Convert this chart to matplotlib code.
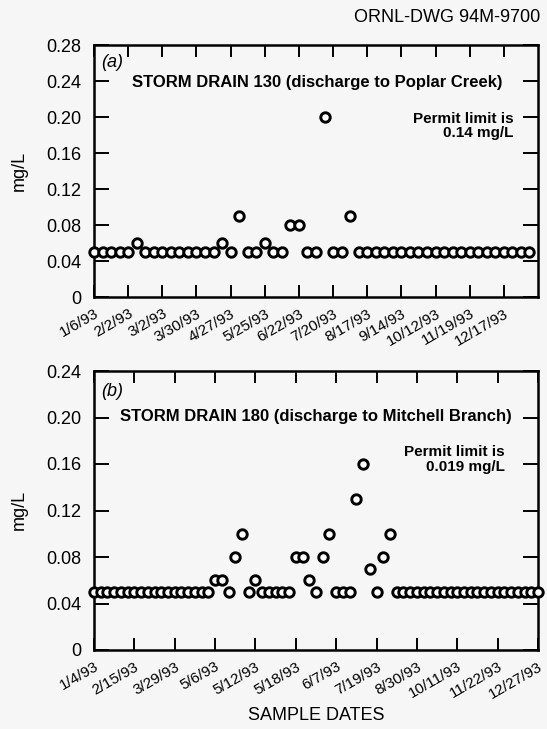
import matplotlib
matplotlib.use("Agg")
import matplotlib.pyplot as plt

plt.rcParams['font.family'] = ['Liberation Sans', 'DejaVu Sans']

# Storm drain 130 (discharge to Poplar Creek), one value per sample
sd130_labels = ["1/6/93", "2/2/93", "3/2/93", "3/30/93", "4/27/93", "5/25/93",
                "6/22/93", "7/20/93", "8/17/93", "9/14/93", "10/12/93",
                "11/19/93", "12/17/93"]
sd130_values = [0.05, 0.05, 0.05, 0.05, 0.05, 0.06, 0.05, 0.05, 0.05, 0.05,
                0.05, 0.05, 0.05, 0.05, 0.05, 0.06, 0.05, 0.09, 0.05, 0.05,
                0.06, 0.05, 0.05, 0.08, 0.08, 0.05, 0.05, 0.20, 0.05, 0.05,
                0.09, 0.05, 0.05, 0.05, 0.05, 0.05, 0.05, 0.05, 0.05, 0.05,
                0.05, 0.05, 0.05, 0.05, 0.05, 0.05, 0.05, 0.05, 0.05, 0.05,
                0.05, 0.05]

# Storm drain 180 (discharge to Mitchell Branch)
sd180_labels = ["1/4/93", "2/15/93", "3/29/93", "5/6/93", "5/12/93", "5/18/93",
                "6/7/93", "7/19/93", "8/30/93", "10/11/93", "11/22/93",
                "12/27/93"]
sd180_values = [0.05, 0.05, 0.05, 0.05, 0.05, 0.05, 0.05, 0.05, 0.05, 0.05,
                0.05, 0.05, 0.05, 0.05, 0.05, 0.05, 0.05, 0.05, 0.06, 0.06,
                0.05, 0.08, 0.10, 0.05, 0.06, 0.05, 0.05, 0.05, 0.05, 0.05,
                0.08, 0.08, 0.06, 0.05, 0.08, 0.10, 0.05, 0.05, 0.05, 0.13,
                0.16, 0.07, 0.05, 0.08, 0.10, 0.05, 0.05, 0.05, 0.05, 0.05,
                0.05, 0.05, 0.05, 0.05, 0.05, 0.05, 0.05, 0.05, 0.05, 0.05,
                0.05, 0.05, 0.05, 0.05, 0.05, 0.05, 0.05]

y_ticks_a = [0, 0.04, 0.08, 0.12, 0.16, 0.20, 0.24, 0.28]
y_ticks_b = [0, 0.04, 0.08, 0.12, 0.16, 0.20, 0.24]

BG = '#f6f6f6'
W, H = 547, 729
fig = plt.figure(figsize=(W / 100, H / 100), dpi=100, facecolor=BG)


def px_axes(left, top, right, bottom):
    return fig.add_axes([left / W, 1 - bottom / H, (right - left) / W, (bottom - top) / H])


def style_axes(ax, values, labels, step, yticks, ylim):
    n_int = len(labels) if step * (len(labels) - 1) < len(values) - 1 else len(labels) - 1
    xmax = step * n_int
    ax.set_facecolor(BG)
    ax.plot(range(len(values)), values, 'o', ms=6.8, mfc='white', mec='black',
            mew=2.1, clip_on=False, zorder=3)
    ax.set_xlim(0, xmax)
    ax.set_ylim(*ylim)
    ax.set_xticks([i * step for i in range(len(labels))])
    ax.set_xticklabels(labels, fontsize=11, rotation=30, ha='right',
                       rotation_mode='anchor')
    ax.set_yticks(yticks)
    ax.set_yticklabels(['0' if v == 0 else f'{v:.2f}' for v in yticks], fontsize=13)
    ax.tick_params(axis='x', direction='in', top=True, length=8.5, width=1.4, pad=7)
    ax.tick_params(axis='y', direction='in', right=True, length=11, width=1.4, pad=9)
    for s in ax.spines.values():
        s.set_linewidth(1.8)


ax1 = px_axes(94, 45, 538, 297)
style_axes(ax1, sd130_values, sd130_labels, 4, y_ticks_a, (0, 0.28))
ax1.text(0.016, 0.93, '(a)', transform=ax1.transAxes, fontsize=13, style='italic',
         ha='left', va='center')
ax1.text(0.502, 0.238, 'STORM DRAIN 130 (discharge to Poplar Creek)', transform=ax1.get_yaxis_transform(),
         fontsize=12, fontweight='bold', ha='center', va='center')
ax1.text(0.944, 0.19, 'Permit limit is\n0.14 mg/L', transform=ax1.get_yaxis_transform(),
         fontsize=11, fontweight='bold', ha='right', va='center', linespacing=1.05)

ax2 = px_axes(94, 371, 538, 650)
style_axes(ax2, sd180_values, sd180_labels, 6, y_ticks_b, (0, 0.24))
ax2.text(0.016, 0.925, '(b)', transform=ax2.transAxes, fontsize=13, style='italic',
         ha='left', va='center')
ax2.text(0.5, 0.201, 'STORM DRAIN 180 (discharge to Mitchell Branch)', transform=ax2.get_yaxis_transform(),
         fontsize=12, fontweight='bold', ha='center', va='center')
ax2.text(0.925, 0.164, 'Permit limit is\n0.019 mg/L', transform=ax2.get_yaxis_transform(),
         fontsize=11, fontweight='bold', ha='right', va='center', linespacing=1.05)

for ax, yc in ((ax1, 171), (ax2, 510)):
    fig.text(19 / W, 1 - yc / H, 'mg/L', rotation=90, fontsize=13, ha='center', va='center')

fig.text(540 / W, 1 - 17 / H, 'ORNL-DWG 94M-9700', fontsize=13, ha='right', va='center')
fig.text(316 / W, 1 - 716 / H, 'SAMPLE DATES', fontsize=13, ha='center', va='center')

fig.savefig('out.png', dpi=100, facecolor=BG)
